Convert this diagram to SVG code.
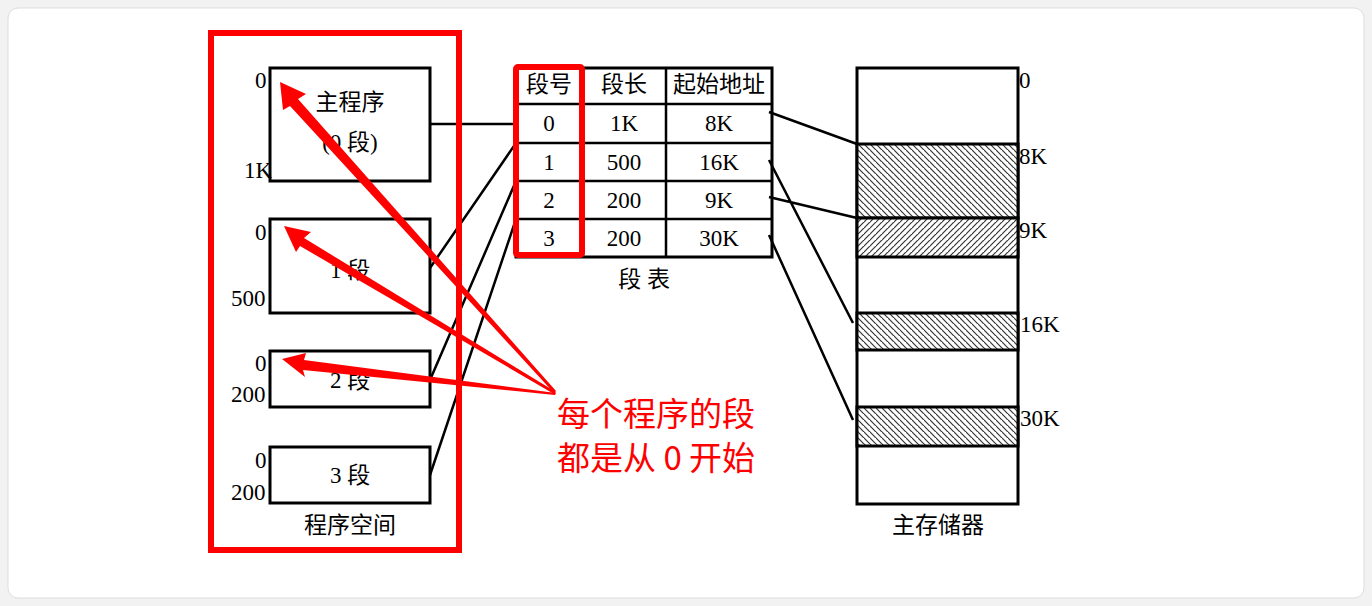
<svg xmlns="http://www.w3.org/2000/svg" width="1372" height="606" viewBox="0 0 1372 606">
<style>
.b{fill:#fff;stroke:#000;stroke-width:3}
.t{font-family:"Liberation Serif","Noto Sans CJK SC",serif;font-size:23px;fill:#000}
.c{text-anchor:middle}
.l{stroke:#000;stroke-width:2.5;fill:none}
.r{fill:none;stroke:#f00;stroke-width:6}
.ra{fill:#f00}
</style>
<defs>
<pattern id="h1" width="6" height="6" patternUnits="userSpaceOnUse"><rect width="6" height="6" fill="#fff"/><path d="M-1,-1L7,7M-4,2L2,8M4,-4L10,2" stroke="#333" stroke-width="1.2"/></pattern>
<pattern id="h2" width="6" height="6" patternUnits="userSpaceOnUse"><rect width="6" height="6" fill="#fff"/><path d="M-1,7L7,-1M-4,4L2,-2M4,10L10,4" stroke="#333" stroke-width="1.2"/></pattern>
</defs>
<rect x="0" y="0" width="1372" height="606" fill="#f2f2f2"/>
<rect x="8" y="8" width="1356" height="590" rx="10" fill="#fff" stroke="#ddd"/>
<g id="main"><rect class="b" x="270" y="68" width="160" height="113"/><text class="t c" x="350" y="110">主程序</text><text class="t c" x="350" y="150">(0 段)</text><text class="t" x="255" y="88">0</text><text class="t" x="244" y="178">1K</text></g>
<g id="seg1"><rect class="b" x="270" y="219" width="160" height="94"/><text class="t c" x="350" y="278">1 段</text><text class="t" x="255" y="240">0</text><text class="t" x="231" y="306">500</text></g>
<g id="seg2"><rect class="b" x="270" y="351" width="160" height="56"/><text class="t c" x="350" y="388">2 段</text><text class="t" x="255" y="371">0</text><text class="t" x="231" y="402">200</text></g>
<g id="seg3"><rect class="b" x="270" y="447" width="160" height="56"/><text class="t c" x="350" y="483">3 段</text><text class="t" x="255" y="468">0</text><text class="t" x="231" y="500">200</text></g>
<text class="t c" x="350" y="533">程序空间</text>
<g id="table">
<rect class="b" x="516" y="68" width="256" height="189"/>
<path class="l" stroke-width="1.5" d="M516,104H772M516,143H772M516,181H772M516,219H772M583,68V257M666,68V257"/>
<text class="t c" x="549" y="92">段号</text><text class="t c" x="624" y="92">段长</text><text class="t c" x="719" y="92">起始地址</text>
<text class="t c" x="549" y="131">0</text><text class="t c" x="624" y="131">1K</text><text class="t c" x="719" y="131">8K</text>
<text class="t c" x="549" y="170">1</text><text class="t c" x="624" y="170">500</text><text class="t c" x="719" y="170">16K</text>
<text class="t c" x="549" y="208">2</text><text class="t c" x="624" y="208">200</text><text class="t c" x="719" y="208">9K</text>
<text class="t c" x="549" y="246">3</text><text class="t c" x="624" y="246">200</text><text class="t c" x="719" y="246">30K</text>
<text class="t c" x="644" y="287">段 表</text>
</g>
<g id="memory">
<rect class="b" x="857" y="68" width="161" height="436"/>
<rect x="857" y="144" width="161" height="74" fill="url(#h1)" stroke="#000" stroke-width="3"/>
<rect x="857" y="218" width="161" height="39" fill="url(#h2)" stroke="#000" stroke-width="3"/>
<rect x="857" y="313" width="161" height="37" fill="url(#h1)" stroke="#000" stroke-width="3"/>
<rect x="857" y="407" width="161" height="39" fill="url(#h1)" stroke="#000" stroke-width="3"/>
<text class="t" x="1019" y="88">0</text><text class="t" x="1019" y="164">8K</text><text class="t" x="1019" y="238">9K</text><text class="t" x="1020" y="332">16K</text><text class="t" x="1020" y="426">30K</text>
<text class="t c" x="938" y="533">主存储器</text>
</g>
<g id="connectors">
<path class="l" d="M430,124H516M430,268L516,143M430,380L516,181M430,475L516,219"/>
<path class="l" d="M769,112L857,144M769,160L853,323M769,197L857,218M769,235L853,420"/>
</g>
<g id="annotation">
<rect class="r" x="211" y="33" width="248" height="517"/>
<rect class="r" x="516" y="67" width="66" height="188" rx="2"/>
<polygon class="ra" points="280,82 306,94 298,99 556,391 554,393 290,106 283,110"/>
<polygon class="ra" points="284,226 311,232 304,238 556,392 554,394 300,246 296,252"/>
<polygon class="ra" points="282,359 306,353 304,360 556,393 555,395 303,370 305,377"/>
<text x="557" y="426" font-family="'Noto Sans CJK SC',sans-serif" font-size="33" fill="#f00">每个程序的段</text>
<text x="557" y="470" font-family="'Noto Sans CJK SC',sans-serif" font-size="33" fill="#f00">都是从 0 开始</text>
</g>
</svg>
